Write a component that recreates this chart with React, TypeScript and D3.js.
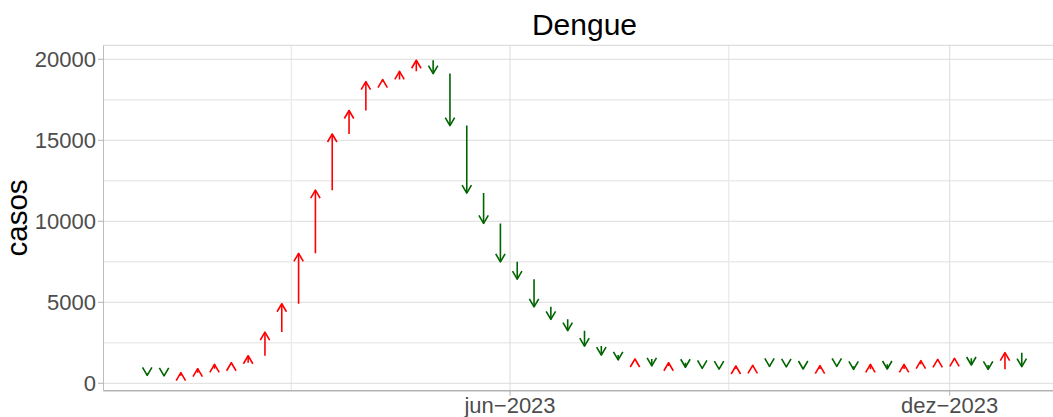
import React from "react";
import * as d3 from "d3";

// weekly dengue cases; first value is the last week of 2022 (baseline for the first arrow)
const casos = [
  620, 490, 460, 655, 900, 1170, 1270, 1700, 3160, 4910, 8020,
  11920, 15390, 16840, 18620, 18750, 19260, 19940, 19120, 15910, 11740,
  9870, 7500, 6430, 4720, 3950, 3250, 2300, 1740, 1440, 1500,
  1070, 1270, 990, 925, 880, 1067, 1110, 1040, 1010, 882,
  1090, 1050, 860, 1170, 882, 1170, 1395, 1480, 1540, 1130,
  860, 1890, 1025,
];
const firstWeek = "2022-12-25";
const xTickDates = ["2023-06-01", "2023-12-01"];
const xTickLabels = ["jun−2023", "dez−2023"];
const xMinorDates = ["2023-03-02", "2023-08-31"];
const yTicks = [0, 5000, 10000, 15000, 20000];
const yMinor = [2500, 7500, 12500, 17500];

const W = 1053, H = 417;
const left = 103.5, right = 1065.5, top = 45.3, bottom = 390.7;
const FONT = "'Liberation Sans', Arial, Helvetica, sans-serif";

export default function App() {
  const start = new Date(firstWeek + "T00:00:00Z");
  const dates = casos.map((_, i) => d3.utcDay.offset(start, 7 * i));
  const d0 = dates[1], d1 = dates[dates.length - 1];
  const pad = (d1.getTime() - d0.getTime()) * 0.05;
  const x = d3.scaleUtc().domain([new Date(d0.getTime() - pad), new Date(d1.getTime() + pad)]).range([left, right]);
  const vals = casos.slice(1);
  const yMin = -457, yMax = 20864;
  const y = d3.scaleLinear().domain([yMin, yMax]).range([bottom, top]);

  const hw = 4.7, hl = 8;
  const arrows = vals.map((v, i) => {
    const prev = casos[i];
    const xi = x(dates[i + 1]);
    const y0 = y(prev), y1 = y(v);
    const up = v > prev;
    const dir = up ? 1 : -1;
    const color = up ? "#FF0000" : "#006400";
    return (
      <g key={i} stroke={color} strokeWidth={1.6} fill="none" strokeLinejoin="round">
        <line x1={xi} x2={xi} y1={y0} y2={y1} />
        <path d={`M${xi - hw},${y1 + dir * hl} L${xi},${y1} L${xi + hw},${y1 + dir * hl}`} />
      </g>
    );
  });

  return (
    <svg width={W} height={H} style={{ position: "absolute", left: 0, top: 0, background: "#fff" }} fontFamily={FONT}>
      <defs>
        <clipPath id="panel">
          <rect x={left} y={top} width={right - left} height={bottom - top} />
        </clipPath>
      </defs>
      {/* grid */}
      <g>
        {yMinor.map((t) => (
          <line key={"ym" + t} x1={left} x2={right} y1={y(t)} y2={y(t)} stroke="#ebebeb" strokeWidth={1.4} />
        ))}
        {xMinorDates.map((d) => {
          const xx = x(new Date(d + "T00:00:00Z"));
          return <line key={"xm" + d} x1={xx} x2={xx} y1={top} y2={bottom} stroke="#ebebeb" strokeWidth={1.4} />;
        })}
        {yTicks.map((t) => (
          <line key={"yg" + t} x1={left} x2={right} y1={y(t)} y2={y(t)} stroke="#dcdcdc" strokeWidth={1} />
        ))}
        {xTickDates.map((d) => {
          const xx = x(new Date(d + "T00:00:00Z"));
          return <line key={"xg" + d} x1={xx} x2={xx} y1={top} y2={bottom} stroke="#dcdcdc" strokeWidth={1} />;
        })}
      </g>
      {/* border */}
      <line x1={left} x2={right} y1={top} y2={top} stroke="#d6d6d6" strokeWidth={1} />
      <line x1={left} x2={left} y1={top} y2={bottom} stroke="#bdbdbd" strokeWidth={1} />
      <line x1={left} x2={right} y1={bottom} y2={bottom} stroke="#b3b3b3" strokeWidth={1.5} />
      <g clipPath="url(#panel)">{arrows}</g>
      {/* y axis */}
      {yTicks.map((t) => (
        <g key={"yt" + t}>
          <line x1={left - 5.5} x2={left} y1={y(t)} y2={y(t)} stroke="#b3b3b3" strokeWidth={1} />
          <text x={left - 7.5} y={y(t) + 8} textAnchor="end" fontSize={22} fill="#4d4d4d">
            {t}
          </text>
        </g>
      ))}
      {/* x axis */}
      {xTickDates.map((d, i) => {
        const xx = x(new Date(d + "T00:00:00Z"));
        return (
          <g key={"xt" + d}>
            <line x1={xx} x2={xx} y1={bottom} y2={bottom + 5} stroke="#b3b3b3" strokeWidth={1} />
            <text x={xx} y={412.7} textAnchor="middle" fontSize={22} fill="#4d4d4d">
              {xTickLabels[i]}
            </text>
          </g>
        );
      })}
      <text transform={`translate(27,${(top + bottom) / 2}) rotate(-90)`} textAnchor="middle" fontSize={29.5} fill="#000">
        casos
      </text>
      <text x={(left + right) / 2} y={34.5} textAnchor="middle" fontSize={30} fill="#000">
        Dengue
      </text>
    </svg>
  );
}
